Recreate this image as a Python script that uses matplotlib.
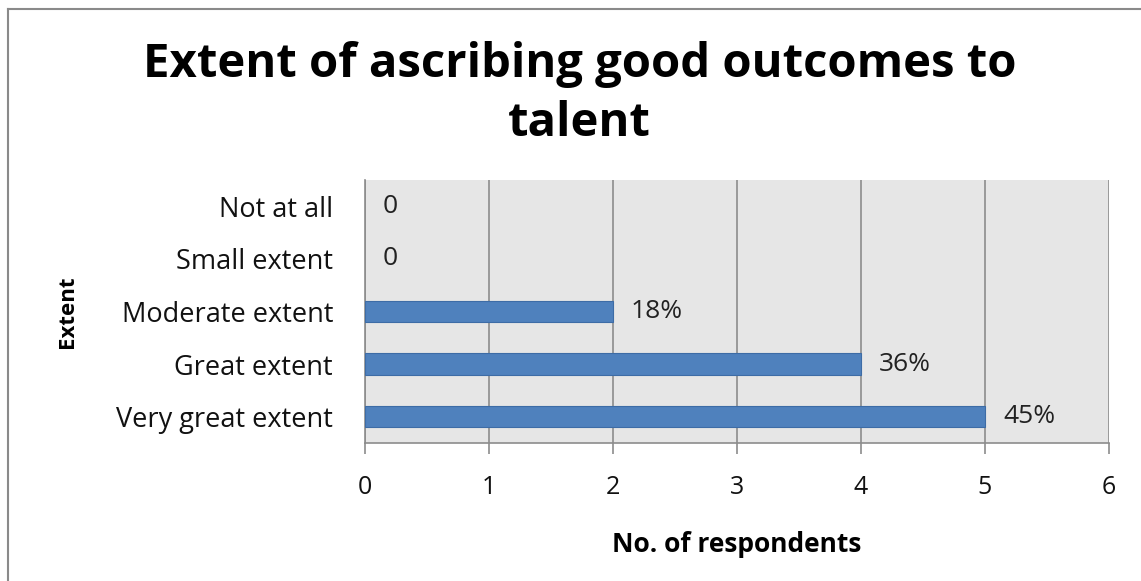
import matplotlib
matplotlib.use("Agg")
import matplotlib.pyplot as plt
from matplotlib.lines import Line2D

categories = ["Very great extent", "Great extent", "Moderate extent",
              "Small extent", "Not at all"]
respondents = [5, 4, 2, 0, 0]
value_labels = ["45%", "36%", "18%", "0", "0"]
x_ticks = [0, 1, 2, 3, 4, 5, 6]

FONT = ["Open Sans", "DejaVu Sans"]

fig = plt.figure(figsize=(11.41, 5.81), dpi=100)
ax = fig.add_axes([0.3199, 0.2375, 0.652, 0.4527])

ax.set_facecolor("#e6e6e6")
ax.set_axisbelow(True)
ax.xaxis.grid(True, color="#8c8c8c", linewidth=1.2)

ypos = list(range(len(categories)))
ax.barh(ypos, respondents, height=0.41, color="#4f81bd",
        edgecolor="#3d6ca6",
        linewidth=[0.8 if v > 0 else 0 for v in respondents], zorder=3)

for y, v, lab in zip(ypos, respondents, value_labels):
    ax.annotate(lab, xy=(v, y), xytext=(13, 0), textcoords="offset points",
                ha="left", va="center", fontsize=19, color="#222222",
                family=FONT, zorder=4)

ax.set_xlim(0, 6)
ax.set_ylim(-0.5, len(categories) - 0.5)
ax.set_xticks(x_ticks)
ax.set_xticklabels([str(t) for t in x_ticks], family=FONT, fontsize=18,
                   color="#111111")
ax.set_yticks(ypos)
ax.set_yticklabels(categories, family=FONT, fontsize=19.5, color="#111111")
ax.tick_params(axis="x", length=8, width=1.2, color="#8c8c8c", pad=15)
ax.tick_params(axis="y", length=0, pad=23)

for side in ("top", "right"):
    ax.spines[side].set_visible(False)
for side in ("left", "bottom"):
    ax.spines[side].set_color("#8c8c8c")
    ax.spines[side].set_linewidth(1.2)

ax.set_xlabel("No. of respondents", family=FONT, fontsize=19,
              fontweight="bold")
ax.xaxis.set_label_coords(0.5, -0.335)
ax.set_ylabel("Extent", family=FONT, fontsize=16, fontweight="bold")
ax.yaxis.set_label_coords(-0.386, 0.5)

fig.text(0.508, 0.838, "Extent of ascribing good outcomes to\ntalent",
         ha="center", va="center", family=FONT, fontsize=34,
         fontweight="bold", linespacing=1.32)

# chart frame (top and left edges)
fig.add_artist(Line2D([8 / 1141, 8 / 1141], [0, 1 - 9 / 581],
                      transform=fig.transFigure, color="#8a8a8a", lw=1.5))
fig.add_artist(Line2D([8 / 1141, 1], [1 - 9 / 581, 1 - 9 / 581],
                      transform=fig.transFigure, color="#8a8a8a", lw=1.5))

fig.savefig("out.png", dpi=100, facecolor="white")
